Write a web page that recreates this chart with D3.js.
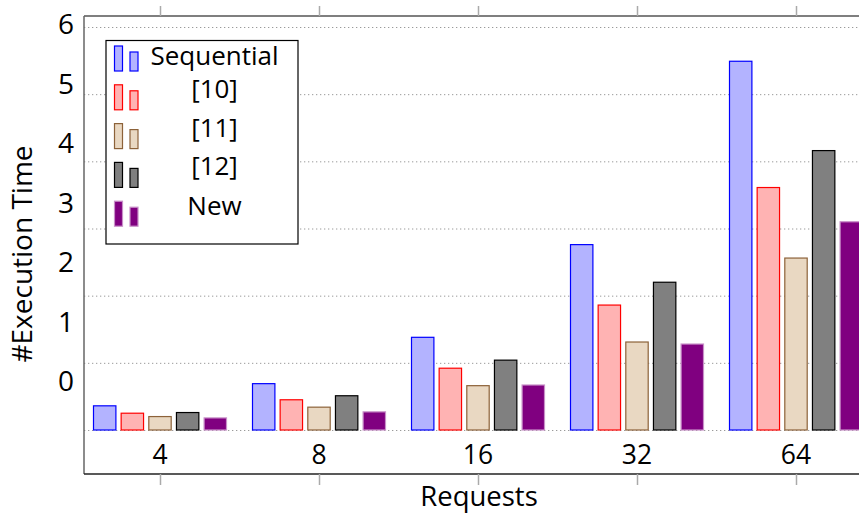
<!DOCTYPE html>
<html>
<head>
<meta charset="utf-8">
<script src="https://cdn.jsdelivr.net/npm/d3@7"></script>
<style>
  html, body { margin: 0; padding: 0; background: #fff; }
  svg { display: block; }
  text { font-family: "Open Sans", "Liberation Sans", sans-serif; fill: #000; }
</style>
</head>
<body>
<svg id="chart" width="859" height="516"></svg>
<script>
const categories = ["4", "8", "16", "32", "64"];
const seriesNames = ["Sequential", "[10]", "[11]", "[12]", "New"];
const sequential = [0.36, 0.69, 1.38, 2.76, 5.49];
const ref10      = [0.25, 0.45, 0.92, 1.86, 3.61];
const ref11      = [0.20, 0.34, 0.66, 1.31, 2.56];
const ref12      = [0.26, 0.51, 1.04, 2.20, 4.16];
const newer      = [0.18, 0.27, 0.67, 1.28, 3.10];
const yTickLabels = ["0", "1", "2", "3", "4", "5", "6"];
const fills   = ["#b3b3ff", "#ffb3b3", "#e9d8c2", "#808080", "#800080"];
const strokes = ["#0000ff", "#ff0000", "#8c6239", "#000000", "#c890c8"];

const seriesValues = [sequential, ref10, ref11, ref12, newer];

const svg = d3.select("#chart");
const frame = { left: 84, top: 16, right: 885, bottom: 474 };

// category scale (centres 160 ... 796)
const x = d3.scalePoint().domain(categories).range([160, 796]);
const inner = d3.scaleBand().domain(seriesNames).range([-66.5, 66.5]).paddingInner(0.19);
const y = d3.scaleLinear().domain([0, 6]).range([430, 27]);
// tick labels of the original sit off their gridlines
const yLab = d3.scaleLinear().domain([0, 6]).range([382, 25]);

// gridlines
svg.append("g")
  .attr("transform", `translate(${frame.left},0)`)
  .call(d3.axisLeft(y).tickValues(d3.range(0, 7)).tickSize(-(frame.right - frame.left)).tickFormat(""))
  .call(g => g.select(".domain").remove())
  .call(g => g.selectAll("line").attr("stroke", "#9a9a9a").attr("stroke-width", 1).attr("stroke-dasharray", "1.3,2.7"));

// bars
seriesNames.forEach((s, i) => {
  svg.append("g").selectAll("rect")
    .data(categories.map((c, j) => ({ c, v: seriesValues[i][j] })))
    .join("rect")
    .attr("x", d => x(d.c) + inner(s))
    .attr("width", inner.bandwidth())
    .attr("y", d => y(d.v))
    .attr("height", d => y(0) - y(d.v))
    .attr("fill", fills[i])
    .attr("stroke", strokes[i])
    .attr("stroke-width", 1.2);
});

// frame
svg.append("line").attr("x1", frame.left).attr("x2", frame.right).attr("y1", frame.top).attr("y2", frame.top).attr("stroke", "#555").attr("stroke-width", 1.5);
svg.append("line").attr("x1", frame.left).attr("x2", frame.left).attr("y1", frame.top).attr("y2", frame.bottom).attr("stroke", "#666").attr("stroke-width", 1.5);
svg.append("line").attr("x1", frame.left).attr("x2", frame.right).attr("y1", frame.bottom).attr("y2", frame.bottom).attr("stroke", "#222").attr("stroke-width", 1.5);

// top ticks
svg.append("g").attr("transform", `translate(0,${frame.top})`)
  .call(d3.axisTop(x).tickSize(10).tickFormat(""))
  .call(g => g.select(".domain").remove())
  .call(g => g.selectAll("line").attr("stroke", "#aaa").attr("stroke-width", 1.5));

// bottom axis: ticks below frame, labels above it
svg.append("g").attr("transform", `translate(0,${frame.bottom})`)
  .call(d3.axisBottom(x).tickSize(11).tickFormat(""))
  .call(g => g.select(".domain").remove())
  .call(g => g.selectAll("line").attr("stroke", "#aaa").attr("stroke-width", 1.5));
svg.append("g").selectAll("text").data(categories).join("text")
  .attr("x", d => x(d)).attr("y", 464)
  .attr("text-anchor", "middle").attr("font-size", 26.5)
  .text(d => d);

// y labels
svg.append("g").attr("transform", `translate(74,0)`)
  .call(d3.axisLeft(yLab).tickValues(d3.range(0, 7)).tickSize(0).tickPadding(0).tickFormat((d, i) => yTickLabels[i]))
  .call(g => g.select(".domain").remove())
  .call(g => g.selectAll("text").attr("font-size", 28).attr("font-family", "Open Sans").attr("fill", "#000"));

// axis titles
svg.append("text").attr("x", 479).attr("y", 506).attr("text-anchor", "middle").attr("font-size", 27.5).text("Requests");
svg.append("text").attr("transform", "translate(32,254) rotate(-90)").attr("text-anchor", "middle").attr("font-size", 28).text("#Execution Time");

// legend
const legendBaselines = [65, 98, 137, 175, 215];
const lg = svg.append("g");
lg.append("rect").attr("x", 106).attr("y", 40.5).attr("width", 192).attr("height", 203.5)
  .attr("fill", "#fff").attr("stroke", "#000").attr("stroke-width", 1.2);
seriesNames.forEach((s, i) => {
  const ty = 46 + i * 38.8;
  lg.append("rect").attr("x", 114.5).attr("y", ty).attr("width", 8).attr("height", 25)
    .attr("fill", fills[i]).attr("stroke", strokes[i]).attr("stroke-width", 1.2);
  lg.append("rect").attr("x", 130).attr("y", ty + 6).attr("width", 8).attr("height", 19)
    .attr("fill", fills[i]).attr("stroke", strokes[i]).attr("stroke-width", 1.2);
  lg.append("text").attr("x", 214.5).attr("y", legendBaselines[i]).attr("text-anchor", "middle")
    .attr("font-size", 26).text(s);
});
</script>
</body>
</html>
